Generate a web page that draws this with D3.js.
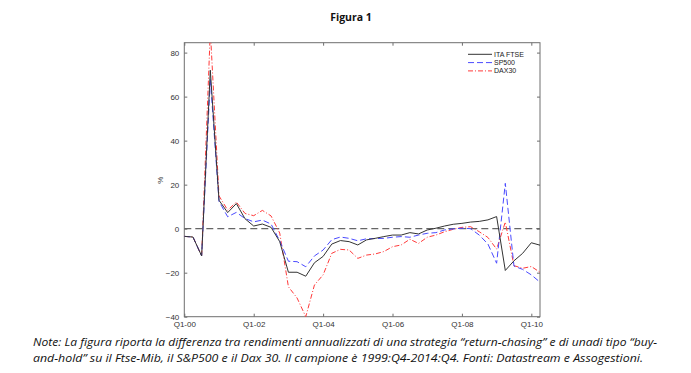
<!DOCTYPE html>
<html><head><meta charset="utf-8">
<script src="https://cdn.jsdelivr.net/npm/d3@7"></script>
<style>body{margin:0;background:#fff;} svg{display:block;}</style>
</head><body>
<svg id="c" width="691" height="373"></svg>
<script>
const quarters = ["Q1-00","Q2-00","Q3-00","Q4-00","Q1-01","Q2-01","Q3-01","Q4-01","Q1-02","Q2-02","Q3-02","Q4-02",
"Q1-03","Q2-03","Q3-03","Q4-03","Q1-04","Q2-04","Q3-04","Q4-04","Q1-05","Q2-05","Q3-05","Q4-05",
"Q1-06","Q2-06","Q3-06","Q4-06","Q1-07","Q2-07","Q3-07","Q4-07","Q1-08","Q2-08","Q3-08","Q4-08",
"Q1-09","Q2-09","Q3-09","Q4-09","Q1-10","Q2-10"];
const itaFtse = [-3.5,-3.8,-12.4,72,12.9,7.3,11.4,4.5,1.2,2.1,0.6,-5.9,
-19.8,-19.8,-21.6,-15.5,-12.6,-7,-5.4,-5.9,-7.4,-5.1,-4.4,-3.6,
-2.9,-2.9,-1.8,-2.4,-0.6,0.2,1.2,2,2.4,3,3.3,4,
5.5,-19,-14.6,-11.2,-6.4,-7.5];
const sp500 = [-3.5,-3.8,-12.4,68,12.4,5.4,7.4,4.6,3.1,3.9,2.1,-5.5,
-14.8,-15,-17.3,-12.4,-9.7,-5,-3.8,-4.4,-5.5,-4.6,-4.5,-4.4,
-3.9,-3.6,-3.9,-2.9,-2.1,-1.8,-0.6,-0.1,0.2,0,-2.9,-7,
-15.7,20.6,-17,-18.5,-21,-24.3];
const dax30 = [-3.5,-3.8,-12.4,90,14.9,8.4,12.1,6.9,5.9,8.3,5.8,-2,
-26.4,-31.5,-40,-25.6,-21,-11.2,-9.4,-9.7,-13.5,-12,-11.5,-10.4,
-8.2,-7.4,-4.8,-6.7,-3.9,-2.9,-1.4,-0.3,0.6,0.9,-1.4,-4,
-9.3,3,-16.8,-18,-17.2,-19.8];
const seriesNames = ["ITA FTSE","SP500","DAX30"];
const xTickIdx = [0,8,16,24,32,40];
const xTickLabels = ["Q1-00","Q1-02","Q1-04","Q1-06","Q1-08","Q1-10"];
const yTicks = [-40,-20,0,20,40,60,80];
const titleText = "Figura 1";
const noteLines = ["Note: La figura riporta la differenza tra rendimenti annualizzati di una strategia \u201creturn-chasing\u201d e di unadi tipo \u201cbuy-",
"and-hold\u201d su il Ftse-Mib, il S&P500 e il Dax 30. Il campione \u00e8 1999:Q4-2014:Q4. Fonti: Datastream e Assogestioni."];

const svg = d3.select("#c");
const L=184.3, R=540, T=42.7, B=316.7;
const x = d3.scaleLinear().domain([0,41]).range([L,R]);
const y = d3.scaleLinear().domain([-40,84.5]).range([B,T]);
const axisCol = "#6e6e6e";
const tickFont = "Liberation Sans, Arial, sans-serif";

svg.append("text").attr("x",351).attr("y",21).attr("text-anchor","middle")
  .attr("font-family","Open Sans, sans-serif").attr("font-weight","bold").attr("font-size",10.5)
  .attr("fill","#111").text(titleText);

svg.append("defs").append("clipPath").attr("id","clip").append("rect")
  .attr("x",L).attr("y",T).attr("width",R-L).attr("height",B-T);

const gx = svg.append("g").attr("transform",`translate(0,${B})`)
  .call(d3.axisBottom(x).tickValues(xTickIdx).tickFormat((d,i)=>xTickLabels[i]).tickSizeInner(-3).tickSizeOuter(0).tickPadding(5));
const gxt = svg.append("g").attr("transform",`translate(0,${T})`)
  .call(d3.axisTop(x).tickValues(xTickIdx).tickFormat("").tickSizeInner(-3).tickSizeOuter(0));
const gy = svg.append("g").attr("transform",`translate(${L},0)`)
  .call(d3.axisLeft(y).tickValues(yTicks).tickSizeInner(-3).tickSizeOuter(0).tickPadding(5));
const gyr = svg.append("g").attr("transform",`translate(${R},0)`)
  .call(d3.axisRight(y).tickValues(yTicks).tickFormat("").tickSizeInner(-3).tickSizeOuter(0));
[gx,gxt,gy,gyr].forEach(g=>{
  g.select(".domain").remove();
  g.selectAll("line").attr("stroke",axisCol);
  g.selectAll("text").attr("font-family",tickFont).attr("font-size",8).attr("fill","#333");
});
svg.append("rect").attr("x",L).attr("y",T).attr("width",R-L).attr("height",B-T)
  .attr("fill","none").attr("stroke",axisCol).attr("stroke-width",1);

svg.append("text").attr("transform",`translate(163,${y(22)}) rotate(-90)`).attr("text-anchor","middle")
  .attr("font-family",tickFont).attr("font-size",8).attr("fill","#333").text("%");

svg.append("line").attr("x1",L).attr("x2",R).attr("y1",y(0)).attr("y2",y(0))
  .attr("stroke","#666").attr("stroke-width",1.2).attr("stroke-dasharray","7,4");

const line = d3.line().x((d,i)=>x(i)).y(d=>y(d));
const styles = [
  {data:itaFtse,color:"#333333",dash:null,w:1},
  {data:sp500,color:"#4a4aff",dash:"6,3",w:1},
  {data:dax30,color:"#ff3a3a",dash:"5,2,1,2",w:1}
];
const gl = svg.append("g").attr("clip-path","url(#clip)");
styles.slice().reverse().forEach(s=>{
  gl.append("path").attr("d",line(s.data)).attr("fill","none").attr("stroke",s.color)
    .attr("stroke-width",s.w).attr("stroke-dasharray",s.dash);
});

const lg = svg.append("g");
styles.forEach((s,i)=>{
  const yy = 54.3 + i*8.3;
  lg.append("line").attr("x1",468).attr("x2",492).attr("y1",yy).attr("y2",yy)
    .attr("stroke",s.color).attr("stroke-width",s.w).attr("stroke-dasharray",s.dash);
  lg.append("text").attr("x",494).attr("y",yy+2.5).attr("font-family",tickFont).attr("font-size",7)
    .attr("fill","#222").text(seriesNames[i]);
});

noteLines.forEach((t,i)=>{
  svg.append("text").attr("x",33).attr("y",345.5+i*16).attr("font-family","Open Sans, sans-serif")
    .attr("font-style","italic").attr("font-size",11.5).attr("fill","#111")
    .attr("textLength", i===0?624:610).attr("lengthAdjust","spacingAndGlyphs").text(t);
});
</script>
</body></html>
